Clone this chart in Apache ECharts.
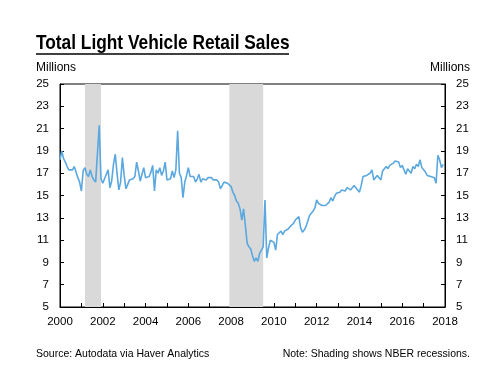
<!DOCTYPE html>
<html><head><meta charset="utf-8">
<script src="https://cdn.jsdelivr.net/npm/echarts@6/dist/echarts.min.js"></script>
<style>html,body{margin:0;padding:0;background:#fff}#c{width:504px;height:368px}</style>
</head><body><div id="c"></div>
<script>
const startYear = 2000;
const y2000 = [18.2,19.0,18.3,18.0,17.6,17.3,17.3,17.3,17.6,17.7,16.6,16.2];
const y2001 = [15.4,17.2,17.5,16.9,16.7,17.3,16.7,16.4,16.2,16.3,21.3,16.5];
const y2002 = [16.1,16.5,16.6,17.3,15.7,16.3,17.8,18.7,17.0,15.5,16.2,18.4];
const y2003 = [16.8,15.6,16.0,16.4,16.4,16.5,16.7,18.0,17.2,16.3,16.9,17.5];
const y2004 = [16.6,16.6,16.7,17.1,17.7,15.4,17.3,17.0,17.5,16.8,17.2,18.0];
const y2005 = [16.4,16.4,16.5,17.2,16.6,17.3,20.8,17.0,16.6,14.8,16.2,16.8];
const y2006 = [17.5,16.7,16.6,16.7,16.2,16.5,16.9,16.2,16.5,16.4,16.4,16.6];
const y2007 = [16.6,16.6,16.4,16.3,16.4,16.2,15.6,15.5,16.2,16.1,16.1,16.0];
const y2008 = [15.8,15.3,15.0,14.5,14.3,13.8,12.8,13.8,12.3,10.7,10.4,10.2];
const y2009 = [9.6,9.1,9.4,9.1,9.8,9.8,10.4,14.6,9.4,10.3,11.0,11.0];
const y2010 = [10.8,10.1,11.5,11.6,11.8,11.5,11.8,11.7,12.0,12.2,12.3,12.5];
const y2011 = [12.8,12.9,13.1,12.1,11.7,11.9,12.2,12.7,13.2,13.4,13.6,13.9];
const y2012 = [14.6,14.3,14.4,14.1,14.0,14.1,14.0,14.4,14.8,14.5,14.9,15.2];
const y2013 = [15.2,15.3,15.5,15.4,15.4,15.7,15.8,15.5,15.7,15.9,15.7,15.5];
const y2014 = [15.3,15.9,16.7,16.6,16.8,16.7,17.0,17.3,16.4,16.5,16.8,16.7];
const y2015 = [16.4,17.2,17.1,17.6,17.4,17.7,17.6,17.9,18.1,18.1,18.0,17.5];
const y2016 = [17.7,17.6,16.9,17.4,17.3,17.0,17.6,17.4,17.8,17.6,18.2,17.5];
const y2017 = [17.3,17.1,16.8,16.8,16.7,16.6,16.6,16.1,18.6,18.2,17.5,17.8];

const recessions = [[2001 + 2/12, 2001 + 11/12], [2007 + 11/12, 2009 + 6/12]];
const xTickLabels = ['2000','2002','2004','2006','2008','2010','2012','2014','2016','2018'];
const yTickLabels = ['5','7','9','11','13','15','17','19','21','23','25'];

const monthly = [].concat(y2000,y2001,y2002,y2003,y2004,y2005,y2006,y2007,y2008,
  y2009,y2010,y2011,y2012,y2013,y2014,y2015,y2016,y2017);
const seriesData = monthly.map((v, i) => [startYear + i / 12, v]);

const font = 'Liberation Sans, Arial, Helvetica, sans-serif';
const yAxisCommon = {
  type: 'value', min: 5, max: 25, interval: 2,
  axisLine: {show: true, lineStyle: {color: '#000', width: 1}},
  axisTick: {show: true, inside: true, length: 4, lineStyle: {color: '#000'}},
  axisLabel: {color: '#000', fontSize: 11.5, fontFamily: font, margin: 11,
    formatter: v => yTickLabels.includes(String(v)) ? String(v) : ''},
  splitLine: {show: false}
};

const chart = echarts.init(document.getElementById('c'), null, {renderer: 'canvas'});
chart.setOption({
  animation: false,
  backgroundColor: '#fff',
  grid: {left: 60, right: 59, top: 84, bottom: 61, show: true, borderColor: '#000', borderWidth: 1, backgroundColor: 'transparent'},
  xAxis: {
    type: 'value', min: 2000, max: 2018, interval: 1,
    axisLine: {show: true, lineStyle: {color: '#000', width: 1}},
    axisTick: {show: true, inside: true, length: 4, lineStyle: {color: '#000'}},
    axisLabel: {color: '#000', fontSize: 11.5, fontFamily: font, margin: 9,
      formatter: v => xTickLabels.includes(String(v)) ? String(v) : ''},
    splitLine: {show: false}
  },
  yAxis: [
    Object.assign({position: 'left'}, yAxisCommon),
    Object.assign({position: 'right'}, yAxisCommon)
  ],
  series: [
    {
      type: 'line', data: [], silent: true,
      markArea: {silent: true, itemStyle: {color: '#d9d9d9'},
        data: recessions.map(r => [{xAxis: r[0]}, {xAxis: r[1]}])}
    },
    {
      type: 'line', data: seriesData, showSymbol: false, z: 5,
      lineStyle: {color: '#5aa8df', width: 1.6}
    }
  ],
  graphic: [
    {type: 'text', x: 36, y: 33, scaleX: 0.824, originX: 0,
      style: {text: 'Total Light Vehicle Retail Sales', fill: '#000',
      font: 'bold 21px "Liberation Sans", Arial, sans-serif'}},
    {type: 'line', shape: {x1: 36, y1: 54, x2: 289, y2: 54}, style: {stroke: '#000', lineWidth: 1.5}},
    {type: 'text', left: 36, top: 62, style: {text: 'Millions', fill: '#000', font: '12px ' + font}},
    {type: 'text', right: 34, top: 62, style: {text: 'Millions', fill: '#000', font: '12px ' + font}},
    {type: 'text', left: 36, top: 349, style: {text: 'Source: Autodata via Haver Analytics', fill: '#000', font: '10.5px ' + font}},
    {type: 'text', right: 34, top: 349, style: {text: 'Note: Shading shows NBER recessions.', fill: '#000', font: '10.5px ' + font}}
  ]
});
</script>
</body></html>
